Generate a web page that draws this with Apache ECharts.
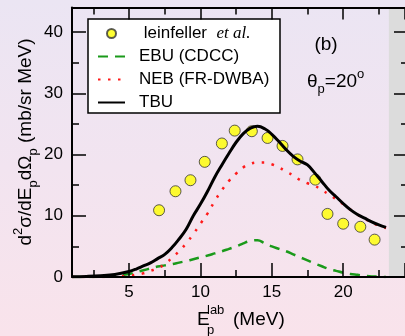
<!DOCTYPE html>
<html>
<head>
<meta charset="utf-8">
<script src="https://cdn.jsdelivr.net/npm/echarts@6/dist/echarts.min.js"></script>
<style>
  html, body { margin: 0; padding: 0; }
  #chart {
    width: 405px; height: 336px;
    background: linear-gradient(180deg, #ebe5f3 0%, #f2e4f0 50%, #f9e3eb 100%);
  }
</style>
</head>
<body>
<div id="chart"></div>
<script>
const FONT = '"Liberation Sans", Arial, sans-serif';

// axis ranges and ticks (the frame's right edge falls just past the picture)
const xMin = 1, xMax = 24.33;
const yMin = 0, yMax = 44;
const xLabelValues = [5, 10, 15, 20];
const yLabelValues = [0, 10, 20, 30, 40];
const xMajorStep = 5, xMinorStep = 2.5;
const yMajorStep = 10, yMinorStep = 5;

// experimental points (leinfeller et al.)
const expEnergy = [7.1, 8.25, 9.3, 10.3, 11.5, 12.4, 13.6, 14.7, 15.75, 16.8, 18.05, 18.9, 20.0, 21.2, 22.2];
const expValue  = [10.9, 14.0, 15.8, 18.8, 21.8, 23.9, 23.8, 22.7, 21.4, 19.2, 15.9, 10.3, 8.7, 8.2, 6.1];

// calculations share one energy grid
const calcEnergy = [1, 2, 3, 4, 5, 5.5, 6, 6.5, 7, 7.5, 8, 8.5, 9, 9.5, 10, 10.5, 11, 11.5, 12, 12.5,
  13, 13.5, 14, 14.5, 15, 15.5, 16, 16.5, 17, 17.5, 18, 18.5, 19, 19.5, 20, 20.5, 21, 21.5, 22, 22.5, 23];
const tbuValue = [0.05, 0.1, 0.2, 0.4, 0.9, 1.3, 1.8, 2.3, 3.0, 3.7, 4.8, 6.2, 7.8, 10.0, 11.9, 14.0, 16.3, 18.3, 20.2, 22.0,
  23.4, 24.3, 24.6, 24.2, 23.3, 22.1, 20.8, 19.7, 18.9, 18.3, 17.0, 15.6, 14.2, 13.1, 12.0, 11.0, 10.2, 9.6, 9.0, 8.5, 8.1];
const nebValue = [0, 0, 0, 0.05, 0.2, 0.4, 0.6, 1.0, 1.4, 2.1, 3.1, 4.2, 5.5, 7.0, 8.7, 10.4, 12.4, 14.2, 15.7, 16.9,
  17.9, 18.5, 18.7, 18.7, 18.4, 17.9, 17.2, 16.6, 15.8, 15.3, 14.9, 14.2, 13.5, 12.7, 11.9, 11.0, 10.2, 9.5, 8.9, 8.4, 8.0];
const ebuValue = [0, 0, 0.05, 0.2, 0.5, 0.8, 1.1, 1.4, 1.7, 1.9, 2.1, 2.35, 2.6, 2.9, 3.2, 3.5, 3.85, 4.2, 4.6, 5.0,
  5.5, 5.9, 6.0, 5.5, 5.0, 4.6, 4.2, 3.7, 3.2, 2.7, 2.2, 1.75, 1.3, 1.0, 0.7, 0.5, 0.35, 0.2, 0.1, 0.05, 0.0];

// shaded strip on the right edge, starting at this energy
const shadeFrom = 23.2;

const W = 405;
const PLOT = { left: 72, top: 7.5, bottom: 59 };
const pxPerUnit = (W - PLOT.left) / (xMax - xMin);
const xToPx = (v) => PLOT.left + (v - xMin) * pxPerUnit;

const pairs = (xs, ys) => xs.map((x, i) => [x, ys[i]]);

function plotGrid(left, extra) {
  return { left, top: PLOT.top, right: 0, bottom: PLOT.bottom, outerBoundsMode: 'none', ...extra };
}

const hiddenAxis = (gridIndex, min, max) => ({ type: 'value', gridIndex, min, max, show: false });

// an axis that only draws inward ticks every `step`, starting at `min`
function tickAxis(gridIndex, position, min, max, step, len) {
  return {
    type: 'value', gridIndex, position, min, max, interval: step, z: 10,
    axisLine: { show: false, onZero: false },
    axisTick: { show: true, inside: true, length: len, lineStyle: { color: '#000', width: 1.5 } },
    axisLabel: { show: false },
    splitLine: { show: false },
  };
}

const frameLine = { show: true, onZero: false, lineStyle: { color: '#000', width: 2 } };

// hides the marker ECharts puts in the middle of a line legend icon
const noMarker = { opacity: 0 };

const chart = echarts.init(document.getElementById('chart'), null, { renderer: 'canvas' });

const option = {
  backgroundColor: 'transparent',
  animation: false,
  grid: [
    plotGrid(PLOT.left),                                                         // 0 data
    plotGrid(xToPx(shadeFrom), { show: true, backgroundColor: '#dcdcdc', borderWidth: 0 }), // 1 grey strip
    plotGrid(xToPx(xMajorStep)),                                                 // 2 x major ticks
    plotGrid(xToPx(xMinorStep)),                                                 // 3 x minor ticks
    plotGrid(PLOT.left),                                                         // 4 left minor ticks
    plotGrid(W - 11),                                                            // 5 right major ticks
    plotGrid(W - 4),                                                             // 6 right minor ticks
  ],
  xAxis: [
    {
      type: 'value', gridIndex: 0, position: 'bottom', min: xMin, max: xMax, z: 10,
      axisLine: frameLine, axisTick: { show: false }, splitLine: { show: false },
      axisLabel: { show: true, customValues: xLabelValues, color: '#000', fontSize: 17, fontFamily: FONT, margin: 7 },
    },
    {
      type: 'value', gridIndex: 0, position: 'top', min: xMin, max: xMax, z: 10,
      axisLine: frameLine, axisTick: { show: false }, axisLabel: { show: false }, splitLine: { show: false },
    },
    tickAxis(2, 'bottom', xMajorStep, xMax, xMajorStep, 14),
    tickAxis(2, 'top', xMajorStep, xMax, xMajorStep, 12),
    tickAxis(3, 'bottom', xMinorStep, xMax, xMinorStep, 7),
    tickAxis(3, 'top', xMinorStep, xMax, xMinorStep, 7),
    hiddenAxis(4, xMin, xMax),
    hiddenAxis(5, 0, 1),
    hiddenAxis(6, 0, 1),
  ],
  yAxis: [
    {
      type: 'value', gridIndex: 0, position: 'left', min: yMin, max: yMax, interval: yMajorStep, z: 10,
      axisLine: frameLine, splitLine: { show: false },
      axisTick: { show: true, inside: true, length: 14, lineStyle: { color: '#000', width: 1.5 } },
      axisLabel: { show: true, customValues: yLabelValues, color: '#000', fontSize: 17, fontFamily: FONT, margin: 9 },
    },
    hiddenAxis(2, yMin, yMax),
    hiddenAxis(3, yMin, yMax),
    tickAxis(4, 'left', yMin, yMax, yMinorStep, 7),
    tickAxis(5, 'left', yMin, yMax, yMajorStep, 11),
    tickAxis(6, 'left', yMin, yMax, yMinorStep, 4),
  ],
  legend: {
    orient: 'vertical', left: 97, top: 25, padding: 0,
    itemWidth: 27, itemHeight: 9, itemGap: 6,
    textStyle: {
      color: '#000', fontSize: 17, fontFamily: FONT, padding: [0, 0, 0, 9],
      rich: {
        a: { fontSize: 17, fontFamily: FONT, color: '#000' },
        b: { fontSize: 17, fontFamily: '"Liberation Serif", "Times New Roman", serif', fontStyle: 'italic', color: '#000' },
      },
    },
    formatter: (name) => name === 'leinfeller' ? ' {a|leinfeller}  {b|et al.}' : name,
    data: [
      { name: 'leinfeller' },
      { name: 'EBU (CDCC)', itemStyle: noMarker },
      { name: 'NEB (FR-DWBA)', itemStyle: noMarker },
      { name: 'TBU', itemStyle: noMarker },
    ],
  },
  graphic: [
    { type: 'rect', shape: { x: 88, y: 19, width: 192, height: 94 },
      style: { fill: '#fff', stroke: '#000', lineWidth: 1.5 }, z: 3 },
    { type: 'text', x: 326, y: 45,
      style: { text: '(b)', font: '19px ' + FONT, fill: '#000', align: 'center', verticalAlign: 'middle' } },
    { type: 'text', x: 307, y: 82,
      style: {
        text: '{m|θ}{sub|p}{m|=20}{sup|o}', align: 'left', verticalAlign: 'middle',
        rich: {
          m: { fontSize: 19, fontFamily: FONT, fill: '#000', lineHeight: 28 },
          sub: { fontSize: 13, fontFamily: FONT, fill: '#000', verticalAlign: 'bottom' },
          sup: { fontSize: 13, fontFamily: FONT, fill: '#000', verticalAlign: 'top' },
        },
      } },
    { type: 'text', x: 26, y: 142, rotation: Math.PI / 2,
      style: {
        text: '{m|d}{sup|2}{m|σ/dE}{sub|p}{m|dΩ}{sub|p}{m| (mb/sr MeV)}', align: 'center', verticalAlign: 'middle',
        rich: {
          m: { fontSize: 19, fontFamily: FONT, fill: '#000', lineHeight: 28 },
          sub: { fontSize: 13, fontFamily: FONT, fill: '#000', verticalAlign: 'bottom' },
          sup: { fontSize: 13, fontFamily: FONT, fill: '#000', verticalAlign: 'top' },
        },
      } },
    { type: 'text', x: 197, y: 320,
      style: { text: 'E', font: '19px ' + FONT, fill: '#000', align: 'left', verticalAlign: 'middle' } },
    { type: 'text', x: 207, y: 310,
      style: { text: 'lab', font: '13px ' + FONT, fill: '#000', align: 'left', verticalAlign: 'middle' } },
    { type: 'text', x: 207, y: 330,
      style: { text: 'p', font: '13px ' + FONT, fill: '#000', align: 'left', verticalAlign: 'middle' } },
    { type: 'text', x: 233, y: 320,
      style: { text: '(MeV)', font: '19px ' + FONT, fill: '#000', align: 'left', verticalAlign: 'middle' } },
  ],
  series: [
    {
      name: 'leinfeller', type: 'scatter', xAxisIndex: 0, yAxisIndex: 0, symbol: 'circle', symbolSize: 11,
      itemStyle: { color: '#ffff00', borderColor: '#333', borderWidth: 1 },
      data: pairs(expEnergy, expValue), z: 3,
    },
    {
      name: 'EBU (CDCC)', type: 'line', xAxisIndex: 0, yAxisIndex: 0, showSymbol: false, symbol: 'none', smooth: 0.4,
      lineStyle: { color: '#1a9a1a', width: 2.5, type: [10, 7] },
      itemStyle: { color: '#1a9a1a' },
      data: pairs(calcEnergy, ebuValue), z: 4,
    },
    {
      name: 'NEB (FR-DWBA)', type: 'line', xAxisIndex: 0, yAxisIndex: 0, showSymbol: false, symbol: 'none', smooth: 0.4,
      lineStyle: { color: '#ff1a1a', width: 2.5, type: [2.5, 7.5] },
      itemStyle: { color: '#ff1a1a' },
      data: pairs(calcEnergy, nebValue), z: 4,
    },
    {
      name: 'TBU', type: 'line', xAxisIndex: 0, yAxisIndex: 0, showSymbol: false, symbol: 'none', smooth: 0.4,
      lineStyle: { color: '#000', width: 3 },
      itemStyle: { color: '#000' },
      data: pairs(calcEnergy, tbuValue), z: 5,
    },
  ],
};

chart.setOption(option);
</script>
</body>
</html>
